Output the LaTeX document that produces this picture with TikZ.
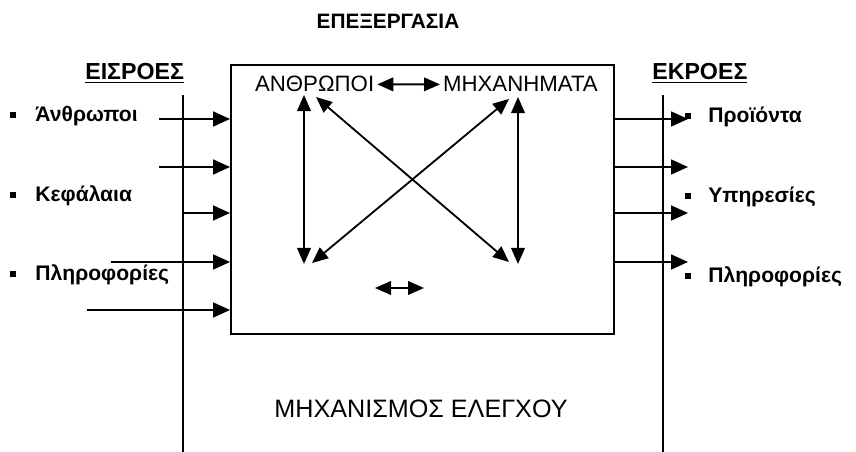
\documentclass[tikz,border=0pt]{standalone}
\usepackage{fontspec}
\setmainfont{Liberation Sans}
\usetikzlibrary{arrows.meta}

\newcommand{\bul}{\rule[2.8pt]{4.4pt}{4.4pt}}

\begin{document}
\begin{tikzpicture}[x=0.025cm,y=-0.025cm,
        line/.style={line width=1.3pt},
        arr/.style={line width=1.3pt, -{Triangle[length=0.42cm,width=0.37cm]}},
        darr/.style={line width=1.3pt, {Triangle[length=0.4cm,width=0.34cm]}-{Triangle[length=0.4cm,width=0.34cm]}},
        lab/.style={inner sep=0, font=\bfseries\fontsize{15}{17}\selectfont, anchor=base west},
        head/.style={inner sep=0, font=\bfseries\fontsize{16.5}{18}\selectfont, anchor=base west},
        inner/.style={inner sep=2pt, font=\fontsize{15.8}{18}\selectfont, anchor=base west}]
        \useasboundingbox (0,0) rectangle (856,452);

        % titles
        \node [inner sep=0, font=\bfseries\fontsize{14.8}{16}\selectfont, anchor=base] (title) at (388,29) {ΕΠΕΞΕΡΓΑΣΙΑ};
        \node [head] (inputs) at (85,80) {\underline{ΕΙΣΡΟΕΣ}};
        \node [head] (outputs) at (652,80) {\underline{ΕΚΡΟΕΣ}};

        % process box
        \node [draw, line width=1.3pt, minimum width=9.575cm, minimum height=6.725cm, inner sep=0] (proc) at (422.5,199.5) {};

        % boundary lines
        \coordinate (ltop) at (183,95);
        \coordinate (lbot) at (183,452);
        \coordinate (rtop) at (663,95);
        \coordinate (rbot) at (663,452);
        \draw [line] (ltop) -- (lbot);
        \draw [line] (rtop) -- (rbot);

        % inputs
        \foreach \y/\x [count=\i] in {119/159,167/159,213/183,262/111,310/87}
        {
                \coordinate (in\i) at (\x,\y);
                \draw [arr] (in\i) -- (in\i -| proc.west);
        }
        \node [lab] (people) at (10,122) {\bul\hspace{13.5pt}Άνθρωποι};
        \node [lab] (capital) at (10,202) {\bul\hspace{13.5pt}Κεφάλαια};
        \node [lab] (info) at (10,281) {\bul\hspace{13.5pt}Πληροφορίες};

        % outputs
        \foreach \y [count=\i] in {119,167,213,262}
        {
                \coordinate (out\i) at (688,\y);
                \draw [arr] (out\i -| proc.east) -- (out\i);
        }
        \node [lab] (products) at (685,123) {\bul\hspace{12pt}Προϊόντα};
        \node [lab] (services) at (685,203) {\bul\hspace{12pt}Υπηρεσίες};
        \node [lab] (infout) at (685,283) {\bul\hspace{12pt}Πληροφορίες};

        % inside the box
        \node [inner] (humans) at (252,92) {ΑΝΘΡΩΠΟΙ};
        \node [inner] (machines) at (440,92) {ΜΗΧΑΝΗΜΑΤΑ};
        \draw [darr] (humans.east) -- (machines.west);

        \coordinate (hv1) at (304,95);
        \coordinate (hv2) at (304,264);
        \coordinate (mv1) at (518,97);
        \coordinate (mv2) at (518,264);
        \coordinate (hd1) at (316,97);
        \coordinate (hd2) at (509,262);
        \coordinate (md1) at (509,99);
        \coordinate (md2) at (312,263);
        \draw [darr] (hv1) -- (hv2);
        \draw [darr] (mv1) -- (mv2);
        \draw [darr] (hd1) -- (hd2);
        \draw [darr] (md1) -- (md2);

        \coordinate (sl) at (375,288);
        \coordinate (sr) at (424,288);
        \draw [darr] (sl) -- (sr);

        \node [inner sep=0, font=\fontsize{17.9}{20}\selectfont, anchor=base] (control) at (421,418) {ΜΗΧΑΝΙΣΜΟΣ ΕΛΕΓΧΟΥ};
\end{tikzpicture}
\end{document}
